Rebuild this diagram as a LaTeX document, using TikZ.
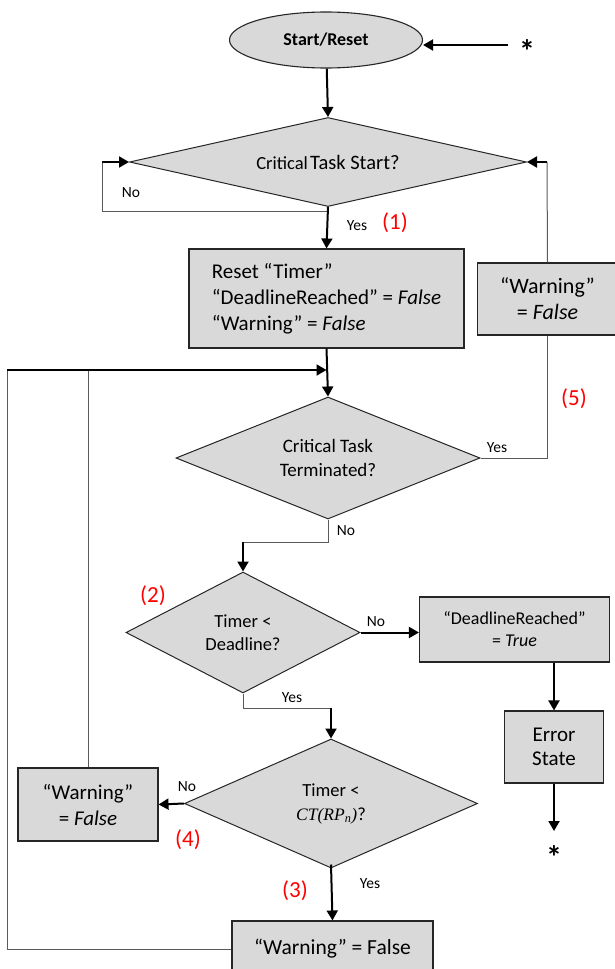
\documentclass[tikz,border=0pt]{standalone}
\usepackage{fontspec}
\setmainfont{Carlito}
\newfontfamily\tnr{Liberation Serif}
\usetikzlibrary{shapes.geometric,arrows.meta}
\definecolor{boxgray}{HTML}{D9D9D9}
\definecolor{linegray}{HTML}{5A5A5A}
\definecolor{labred}{HTML}{FF0000}
\tikzset{
  box/.style={draw=black!85, fill=boxgray, line width=1.1pt, inner sep=0pt, align=center},
  dia/.style={diamond, draw=black!85, fill=boxgray, line width=1pt, inner sep=0pt, align=center},
  arr/.style={line width=2pt, -{Triangle[length=10pt,width=11pt]}},
  thinl/.style={draw=linegray, line width=1pt},
  lab/.style={font=\fontsize{15.5}{17}\selectfont, inner sep=0pt},
  redlab/.style={text=labred, font=\fontsize{23}{25}\selectfont, inner sep=0pt},
  asterisk/.style={font=\bfseries\fontsize{32}{34}\selectfont, inner sep=0pt, anchor=base},
}
\begin{document}
\begin{tikzpicture}[x=1pt,y=-1pt]
\useasboundingbox (0,0) rectangle (615,969);

% nodes
\node[ellipse, draw=black!85, fill=boxgray, line width=1.1pt, minimum width=193pt, minimum height=56pt, inner sep=0pt,
  font=\bfseries\fontsize{18}{20}\selectfont] (start) at (326,40) {Start/Reset};
\node[asterisk] (st1) at (527,62) {*};
\coordinate (st1a) at (508,45);

\node[dia, shape aspect=4.4, minimum width=397pt, minimum height=89pt] (d1) at (328,162)
  {{\fontsize{18.5}{20}\selectfont Critical} {\fontsize{20.5}{22}\selectfont Task Start?}};

\node[box, minimum width=275pt, minimum height=99pt, align=left, font=\fontsize{21}{26}\selectfont]
  (reset) at (326.5,298.5) {Reset “Timer”\\“DeadlineReached” = \textit{False}\\“Warning” = \textit{False}};

\node[box, minimum width=140pt, minimum height=72pt, font=\fontsize{22}{26}\selectfont] (w5) at (547.5,299) {“Warning”\\= \textit{False}};

\node[dia, shape aspect=2.5, minimum width=304pt, minimum height=122pt, font=\fontsize{19}{24}\selectfont] (d2) at (328,458) {Critical Task\\Terminated?};

\node[dia, shape aspect=1.9, minimum width=234pt, minimum height=121pt, font=\fontsize{18.5}{23}\selectfont] (d3) at (243,632.5) {Timer <\\Deadline?};

\node[box, minimum width=190pt, minimum height=65pt, font=\fontsize{18}{22}\selectfont] (dr) at (514.5,629.5) {“DeadlineReached”\\= \textit{True}};

\node[box, minimum width=99pt, minimum height=72pt, font=\fontsize{21}{24}\selectfont] (err) at (554,747) {Error\\State};
\coordinate (st2a) at (554,831);
\node[asterisk] (st2) at (554,868) {*};

\node[dia, shape aspect=2.25, minimum width=293pt, minimum height=129pt, font=\fontsize{18.5}{24}\selectfont] (d4) at (331,803.5)
  {Timer <\\{\tnr\itshape\fontsize{17.5}{24}\selectfont CT(RP\textsubscript{n})}?};

\node[box, minimum width=140pt, minimum height=73pt, font=\fontsize{21}{26}\selectfont] (w4) at (88,804.5) {“Warning”\\= \textit{False}};

\node[box, minimum width=201pt, minimum height=56pt, font=\fontsize{21.5}{24}\selectfont] (wb) at (332.5,949) {“Warning” = False};

% labels
\node[lab] at (131,193) {No};
\node[lab] at (357,226) {Yes};
\node[redlab] at (395,223) {(1)};
\node[lab] at (497,448) {Yes};
\node[redlab] at (574,399) {(5)};
\node[lab] at (346,531) {No};
\node[redlab] at (153,596) {(2)};
\node[lab] at (376,622) {No};
\node[lab] at (292,698) {Yes};
\node[lab] at (187,787) {No};
\node[redlab] at (188,840) {(4)};
\node[lab] at (370,884) {Yes};
\node[redlab] at (295,891) {(3)};

% connectors
\draw[arr] (st1a) -- (st1a -| start.east);
\draw[arr] (start) -- (d1.north);
\coordinate (l1) at (102,211);
\draw[thinl] (d1.south) -- (d1.south |- l1) -- (l1) -- (l1 |- d1.west);
\draw[arr] (l1 |- d1.west) -- (d1.west);
\draw[arr] (d1.south) -- (reset.north);
\coordinate (r1) at (547,162);
\draw[thinl] (w5.north) -- (r1);
\draw[arr] (r1) -- (d1.east);
\draw[thinl] (w5.south) |- (d2.east);

\coordinate (fb) at (7,370);
\draw[arr] (reset.south) -- (d2.north);
\draw[thinl] (wb.west) -| (fb);
\draw[thinl] (w4.north) -- (w4.north |- fb);
\draw[arr] (fb) -- (fb -| reset.south);

\coordinate (c2) at (243,542);
\draw[thinl] (d2.south) |- (c2);
\draw[arr] (c2) -- (d3.north);
\draw[arr] (d3.east) -- (d3.east -| dr.west);
\draw[arr] (dr.south -| err.north) -- (err.north);
\draw[arr] (err.south) -- (st2a);

\coordinate (c3) at (331,708);
\draw[thinl] (d3.south) |- (c3);
\draw[arr] (c3) -- (d4.north);
\draw[arr] (d4.west) -- (w4.east);
\draw[arr] ([yshift=4pt]d4.south) -- (wb.north);
\end{tikzpicture}
\end{document}
